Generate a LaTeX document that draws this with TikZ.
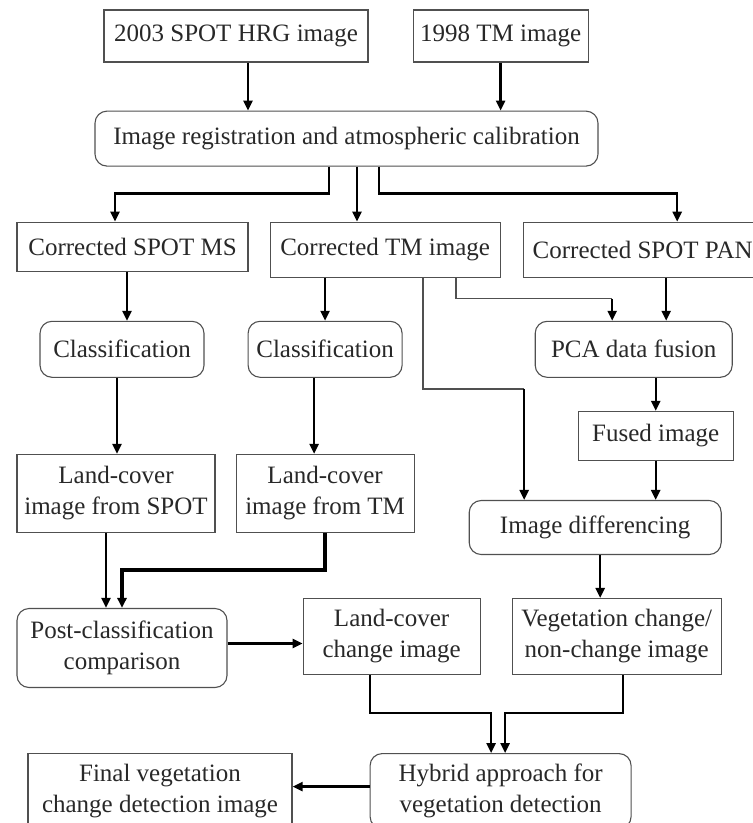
\documentclass[tikz,border=0pt]{standalone}
\usepackage{fontspec}
\setmainfont{Liberation Serif}
\usepackage{tikz}
\usetikzlibrary{arrows.meta, positioning}
\definecolor{borde}{RGB}{80,80,80}
\definecolor{texto}{RGB}{40,40,40}

\begin{document}
\begin{tikzpicture}[
  x=1pt, y=-1pt,
  box/.style={draw=borde, line width=1.1pt, inner sep=0pt, align=center,
              text=texto, font=\fontsize{25}{31}\selectfont},
  proc/.style={box, rounded corners=12pt},
  arr/.style={-{Triangle[length=10pt,width=9pt]}, line width=2.4pt},
  arrw/.style={arr, line width=3.8pt},
  ln/.style={line width=1.3pt, draw=borde},
]
  \useasboundingbox (0,0) rectangle (753,823);
  \node[box, minimum width=264pt, minimum height=52pt] (hrg) at (236,36) {2003 SPOT HRG image};
  \node[box, minimum width=175pt, minimum height=52pt, right=44pt of hrg] (tm) {1998 TM image};
  \node[proc, minimum width=503pt, minimum height=55pt, below=48pt of hrg, xshift=110.5pt] (reg) {Image registration and atmospheric calibration};
  \node[box, minimum width=231pt, minimum height=49pt, below=55pt of reg, xshift=-214pt] (ms) {Corrected SPOT MS};
  \node[box, minimum width=230pt, minimum height=55pt, right=21pt of ms, yshift=-3pt] (ctm) {Corrected TM image};
  \node[box, minimum width=239pt, minimum height=55pt, right=22pt of ctm] (pan) {Corrected SPOT PAN};
  \node[proc, minimum width=164pt, minimum height=56pt, below=49pt of ms, xshift=-10.5pt] (cls1) {Classification};
  \node[proc, minimum width=154pt, minimum height=56pt, right=43pt of cls1] (cls2) {Classification};
  \node[proc, minimum width=197pt, minimum height=56pt, right=132pt of cls2] (pca) {PCA data fusion};
  \node[box, minimum width=155pt, minimum height=49pt, below=33pt of pca, xshift=22pt] (fused) {Fused image};
  \node[proc, minimum width=252pt, minimum height=54pt, below=39pt of fused, xshift=-60.5pt] (diff) {Image differencing};
  \node[box, minimum width=198pt, minimum height=78pt, below=76pt of cls1, xshift=-6pt] (lcs) {Land-cover\\image from SPOT};
  \node[box, minimum width=178pt, minimum height=78pt, right=20pt of lcs] (lct) {Land-cover\\image from TM};
  \node[proc, minimum width=210pt, minimum height=79pt, below=75pt of lcs, xshift=6pt] (post) {Post-classification\\comparison};
  \node[box, minimum width=177pt, minimum height=76pt, right=75pt of post, yshift=11.5pt] (lcc) {Land-cover\\change image};
  \node[box, minimum width=209pt, minimum height=76pt, right=31pt of lcc] (veg) {Vegetation change/\\non-change image};
  \node[proc, minimum width=261pt, minimum height=75pt, below=78pt of lcc, xshift=109pt] (hyb) {Hybrid approach for\\vegetation detection};
  \node[box, minimum width=264pt, minimum height=75pt, left=77pt of hyb] (fin) {Final vegetation\\change detection image};

  % top part
  \draw[arr] ([xshift=12pt]hrg.south) -- ([xshift=12pt]hrg.south |- reg.north);
  \draw[arr] (tm.south) -- (tm.south |- reg.north);
  \draw[arr] ([xshift=-17.5pt]reg.south) -- ++(0,-27pt) -| ([xshift=-17.5pt]ms.north);
  \draw[arr] ([xshift=10.5pt]reg.south) -- ([xshift=10.5pt]reg.south |- ctm.north);
  \draw[arr] ([xshift=32.5pt]reg.south) -- ++(0,-27pt) -| ([xshift=34.5pt]pan.north);

  % corrected images
  \draw[arr] ([xshift=-5.5pt]ms.south) -- ([xshift=-5.5pt]ms.south |- cls1.north);
  \draw[arr] (cls2.north |- ctm.south) -- (cls2.north);
  \draw[ln] ([xshift=71pt]ctm.south) |- ([xshift=-21.5pt,yshift=22pt]pca.north);
  \draw[arr] ([xshift=-21.5pt,yshift=22pt]pca.north) -- ([xshift=-21.5pt]pca.north);
  \draw[ln] ([xshift=38pt]ctm.south) |- ([xshift=-71pt,yshift=111pt]diff.north);
  \draw[arr] ([xshift=-71pt,yshift=111pt]diff.north) -- ([xshift=-71pt]diff.north);
  \draw[arr] ([xshift=23.5pt]pan.south) -- ([xshift=23.5pt]pan.south |- pca.north);
  \draw[arr] (fused.north |- pca.south) -- (fused.north);
  \draw[arr] (fused.south) -- (fused.south |- diff.north);

  % classification branch
  \draw[arr] ([xshift=-5pt]cls1.south) -- ([xshift=-5pt]cls1.south |- lcs.north);
  \draw[arr] ([xshift=-11pt]cls2.south) -- ([xshift=-11pt]cls2.south |- lct.north);
  \draw[arr] ([xshift=-10pt]lcs.south) -- ([xshift=-10pt]lcs.south |- post.north);
  \draw[arrw] (lct.south) -- ++(0,-37pt) -| (post.north);
  \draw[arr] ([xshift=5pt]diff.south) -- ([xshift=5pt]diff.south |- veg.north);
  \draw[arr] ([yshift=4.5pt]post.east) -- ([yshift=4.5pt]post.east -| lcc.west);

  % bottom
  \draw[arr] ([xshift=-21.5pt]lcc.south) -- ++(0,-38pt) -| ([xshift=-9.5pt]hyb.north);
  \draw[arr] ([xshift=6.5pt]veg.south) -- ++(0,-38pt) -| ([xshift=4.5pt]hyb.north);
  \draw[arr] ([yshift=4.5pt]hyb.west) -- ([yshift=4.5pt]hyb.west -| fin.east);
\end{tikzpicture}
\end{document}
